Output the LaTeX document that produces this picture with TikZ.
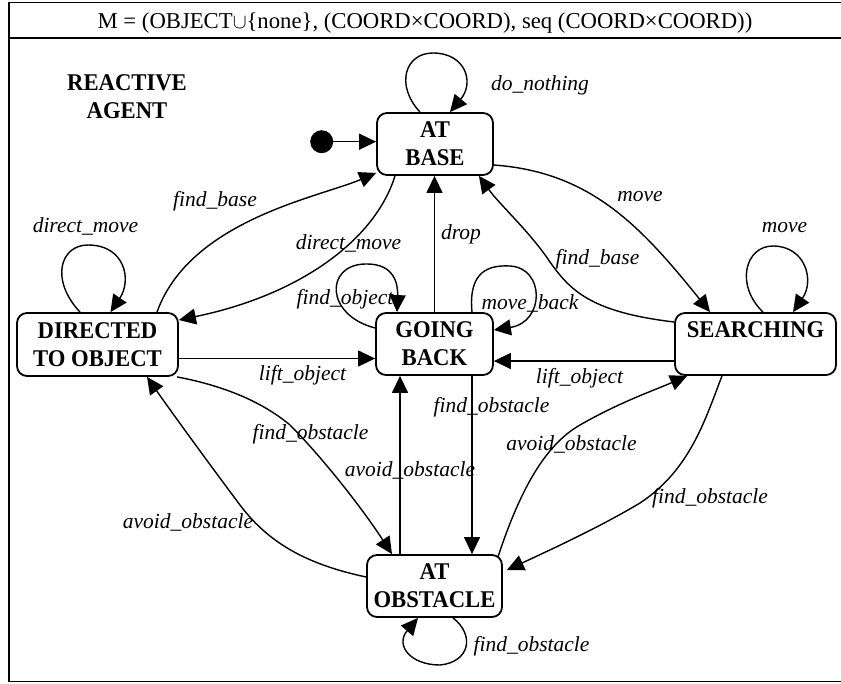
\documentclass[tikz,border=0pt]{standalone}
\usepackage{fontspec}
\setmainfont{Liberation Serif}
\newfontfamily\stfont{Liberation Serif}[FakeStretch=0.945]
\usetikzlibrary{arrows.meta}
\begin{document}
\begin{tikzpicture}[x=1pt,y=-1pt,
  stbox/.style={draw, line width=1.8pt, rounded corners=10pt, align=center, inner sep=0pt,
    font=\stfont\bfseries\fontsize{24}{28}\selectfont},
  lbl/.style={font=\itshape\fontsize{21.5}{24}\selectfont, inner sep=0pt, anchor=base},
  conn/.style={line width=1.4pt, -{Triangle[length=17pt,width=16pt]}},
]
\fill[white] (0,0) rectangle (841,683);
\useasboundingbox (0,0) rectangle (841,683);
% frame
\draw[line width=1.6pt] (9,2.5) rectangle (843,681.5);
\draw[line width=1.6pt] (9,38) -- (843,38);
\node[font=\fontsize{22.7}{27}\selectfont, inner sep=0pt, anchor=base] (title) at (425,28)
  {M = (OBJECT$\cup$\{none\}, (COORD×COORD), seq (COORD×COORD))};
\node[font=\stfont\bfseries\fontsize{24}{28}\selectfont, align=center, inner sep=0pt] (agent) at (127,96.8) {REACTIVE\\AGENT};

% states
\node[stbox, minimum width=116pt, minimum height=62pt] (base) at (435,144) {AT\\BASE};
\node[stbox, minimum width=161pt, minimum height=63pt] (dir) at (97.5,344.5) {DIRECTED\\TO OB\smash{J}ECT};
\node[stbox, minimum width=117pt, minimum height=62pt] (gb) at (434.5,344) {GOING\\BACK};
\node[stbox, minimum width=161pt, minimum height=62pt] (search) at (755.5,344) {SEARCHING\\\mbox{}};
\node[stbox, minimum width=135pt, minimum height=62pt] (obs) at (434.5,586) {AT\\OBSTACLE};
\node[circle, fill, minimum size=23pt, inner sep=0pt] (dot) at (321.7,141.7) {};

% connectors
\draw[conn] (dot) -- (dot -| base.west);
\draw[conn] ([xshift=-15pt]base.north) .. controls (395,85) and (405,53) .. (433,53)
  .. controls (465,53) and (475,82) .. ([xshift=15pt]base.north);
\draw[conn] ([xshift=59.5pt]dir.north) .. controls (190,220) and (320,197) .. ([yshift=3pt]base.south west);
\draw[conn] ([xshift=-40pt]base.south) .. controls (375,240) and (300,295) .. ([yshift=24.5pt]dir.east);
\draw[conn] ([yshift=16pt]gb.west) .. controls (325,315) and (325,265) .. (365,264)
  .. controls (395,263) and (398,285) .. ([xshift=-37.5pt]gb.north);
\draw[conn] ([xshift=37.5pt]gb.north) .. controls (468,270) and (490,265) .. (510,266)
  .. controls (545,268) and (545,322) .. ([yshift=14pt]gb.east);
\draw[conn] (gb.north) -- (gb.north |- base.south);
\draw[conn] ([yshift=-21pt]base.east) .. controls (590,172) and (640,225) .. ([xshift=-45.5pt]search.north);
\draw[conn] ([yshift=22pt]search.west) .. controls (590,312) and (570,290) .. (550,262)
  .. controls (530,232) and (500,205) .. ([xshift=-15pt]base.south east);
\draw[conn] ([xshift=7.5pt]search.north) .. controls (735,285) and (745,246) .. (773,246)
  .. controls (805,246) and (815,280) .. ([xshift=37.5pt]search.north);
\coordinate (lr) at ([yshift=-17pt]search.west);
\draw[conn] (lr) -- (lr -| gb.east);
\coordinate (ll) at ([yshift=-14pt]dir.east);
\draw[conn] (ll) -- (ll -| gb.west);
\coordinate (fo) at ([xshift=37.5pt]gb.south);
\draw[conn] (fo) -- (fo |- obs.north);
\coordinate (ao) at ([xshift=-34.5pt]obs.north);
\draw[conn] (ao) -- (ao |- gb.south);
\draw[conn] ([xshift=-2pt]dir.south east) .. controls (220,385) and (260,400) .. (290,425)
  .. controls (320,455) and (360,505) .. ([xshift=-42.5pt]obs.north);
\draw[conn] ([yshift=9pt]obs.west) .. controls (310,565) and (270,545) .. (240,505)
  .. controls (210,465) and (170,410) .. ([xshift=49.5pt]dir.south);
\draw[conn] ([xshift=-5pt,yshift=-3pt]obs.north east) .. controls (520,490) and (545,445) .. (580,425)
  .. controls (620,402) and (655,390) .. ([xshift=13pt]search.south west);
\draw[conn] ([xshift=-33.5pt]search.south) .. controls (705,420) and (690,470) .. (640,503)
  .. controls (600,527) and (550,550) .. ([xshift=4pt,yshift=16pt]obs.east);
\draw[conn] ([xshift=18.5pt]obs.south) .. controls (475,635) and (470,662) .. (440,665)
  .. controls (410,665) and (395,645) .. ([xshift=-16.5pt]obs.south);
\draw[conn] ([xshift=-17.5pt]dir.north) .. controls (50,280) and (60,245) .. (88,245)
  .. controls (125,245) and (132,280) .. ([xshift=13pt]dir.north);

% labels
\node[lbl] (l1) at (540,90) {do\_nothing};
\node[lbl] (l2) at (85.5,232) {direct\_move};
\node[lbl] (l3) at (215,206) {find\_base};
\node[lbl] (l4) at (348.5,249) {direct\_move};
\node[lbl] (l5) at (345,304) {find\_object};
\node[lbl] (l6) at (302.5,380) {lift\_object};
\node[lbl] (l7) at (461,239) {drop};
\node[lbl] (l8) at (640,201.5) {move};
\node[lbl] (l9) at (597.5,264) {find\_base};
\node[lbl] (l10) at (784.5,232.5) {move};
\node[lbl] (l11) at (530,309) {move\_back};
\node[lbl] (l12) at (579.5,383) {lift\_object};
\node[lbl] (l13) at (491.5,412.5) {find\_obstacle};
\node[lbl] (l14) at (310.5,439) {find\_obstacle};
\node[lbl] (l15) at (410,476.5) {avoid\_obstacle};
\node[lbl] (l16) at (188,528) {avoid\_obstacle};
\node[lbl] (l17) at (571.5,450.5) {avoid\_obstacle};
\node[lbl] (l18) at (710,503) {find\_obstacle};
\node[lbl] (l19) at (531.5,651.5) {find\_obstacle};
\end{tikzpicture}
\end{document}
